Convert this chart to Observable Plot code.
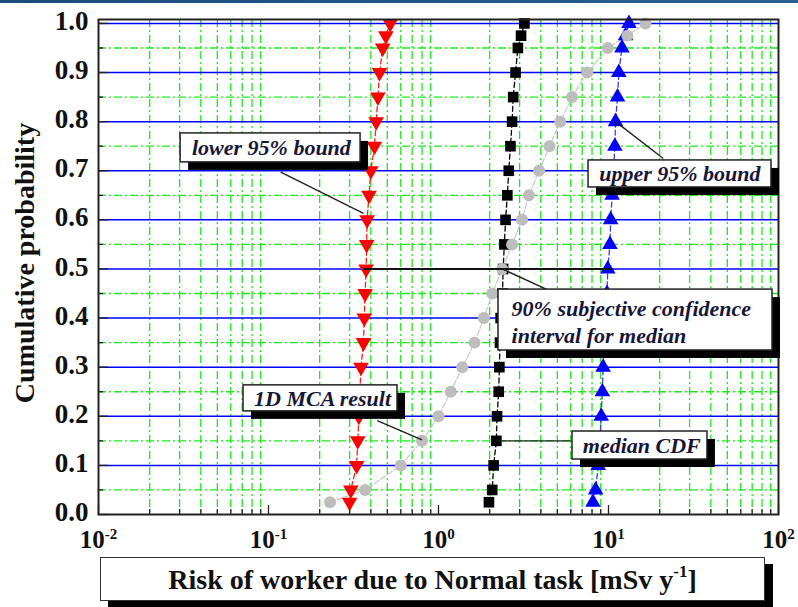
<!DOCTYPE html>
<html>
<head>
<meta charset="utf-8">
<script src="https://cdn.jsdelivr.net/npm/d3@7"></script>
<script src="https://cdn.jsdelivr.net/npm/@observablehq/plot@0.6"></script>
<style>
html, body { margin: 0; padding: 0; background: #fff; }
#wrap { position: relative; width: 798px; height: 607px; overflow: hidden; }
#wrap svg { position: absolute; left: 0; top: 0; }
#topbar { position: absolute; left: 0; top: 0; width: 798px; height: 3px; background: linear-gradient(90deg, #1b4a7e, #2b5f96); }
#xlabel { position: absolute; left: 100px; top: 557px; width: 663px; height: 42px; border: 1.5px solid #333; background: #fff;
  box-shadow: 8px 7px 0 #000; font: bold 28px "Liberation Serif", "Times New Roman", serif; color: #111; text-align: center; line-height: 44px; }
#xlabel sup { font-size: 17px; position: relative; top: -2px; line-height: 0; }
</style>
</head>
<body>
<div id="wrap"></div>
<script>
// ---- data ----
const probs   = [0.025, 0.05, 0.10, 0.15, 0.20, 0.25, 0.30, 0.35, 0.40, 0.45, 0.50, 0.55, 0.60, 0.65, 0.70, 0.75, 0.80, 0.85, 0.90, 0.95, 0.975, 1.0];
const lower95 = [0.30, 0.305, 0.33, 0.335, 0.34, 0.345, 0.35, 0.362, 0.366, 0.37, 0.375, 0.378, 0.38, 0.39, 0.40, 0.42, 0.43, 0.44, 0.45, 0.47, 0.49, 0.52];
const median  = [1.98, 2.07, 2.11, 2.19, 2.21, 2.26, 2.28, 2.30, 2.32, 2.38, 2.40, 2.44, 2.48, 2.54, 2.59, 2.65, 2.71, 2.75, 2.84, 2.93, 3.06, 3.2];
const upper95 = [8.1, 8.4, 8.7, 8.9, 9.06, 9.2, 9.3, 9.4, 9.6, 9.8, 9.9, 10.2, 10.3, 10.5, 10.7, 10.9, 11.0, 11.3, 11.5, 12.0, 12.6, 13.2];
const mca1D   = [0.23, 0.37, 0.60, 0.80, 1.0, 1.18, 1.38, 1.63, 1.85, 2.07, 2.37, 2.71, 3.1, 3.4, 3.9, 4.5, 5.2, 6.1, 7.5, 9.9, 12.9, 16.5];

const xMajorTicks = [0.01, 0.1, 1, 10, 100];
const xTickExponents = ["-2", "-1", "0", "1", "2"];
const xMinorMultipliers = [2, 3, 4, 5, 6, 7, 8, 9];
const yMajorTicks = [0.0, 0.1, 0.2, 0.3, 0.4, 0.5, 0.6, 0.7, 0.8, 0.9, 1.0];
const yMinorTicks = [0.05, 0.15, 0.25, 0.35, 0.45, 0.55, 0.65, 0.75, 0.85, 0.95];

const yTitle = "Cumulative probability";
const xTitle = "Risk of worker due to Normal task [mSv y";

// annotation boxes (data coordinates)
const boxes = [
  {label: "lower 95% bound", x1: 0.0304, x2: 0.348, y1: 0.717, y2: 0.776, tx: 0.104, ty: 0.746, align: "middle"},
  {label: "upper 95% bound", x1: 7.63, x2: 90.9, y1: 0.666, y2: 0.721, tx: 26.3, ty: 0.6935, align: "middle"},
  {label: "90% subjective confidence\ninterval for median", x1: 2.254, x2: 92.2, y1: 0.334, y2: 0.458, tx: 2.69, ty: 0.394, align: "start"},
  {label: "1D MCA result", x1: 0.0713, x2: 0.574, y1: 0.210, y2: 0.263, tx: 0.208, ty: 0.2363, align: "middle"},
  {label: "median CDF", x1: 6.14, x2: 38.2, y1: 0.112, y2: 0.169, tx: 15.7, ty: 0.1405, align: "middle"}
];
const arrows = [
  {x1: 0.362, y1: 0.613, x2: 0.118, y2: 0.697},
  {x1: 11.0, y1: 0.80, x2: 21.0, y2: 0.725},
  {x1: 2.37, y1: 0.50, x2: 4.56, y2: 0.455},
  {x1: 0.436, y1: 0.191, x2: 0.80, y2: 0.152},
  {x1: 2.19, y1: 0.15, x2: 6.0, y2: 0.15}
];
const doubleArrows = [
  {x1: 0.36, y1: 0.50, x2: 10.5, y2: 0.50}
];

// ---- build tables ----
const rows = probs.map((p, i) => ({p, lower: lower95[i], median: median[i], upper: upper95[i], mca: mca1D[i]}));
const xMinorTicks = [];
for (const d of xMajorTicks.slice(0, -1)) for (const m of xMinorMultipliers) xMinorTicks.push(d * m);

const serif = '"Liberation Serif", "Times New Roman", serif';
const green = "#1aea1a";
const dashDot = "8,3,2,3";
const noText = () => "";

const chart = Plot.plot({
  width: 798, height: 607,
  marginLeft: 98, marginRight: 20, marginTop: 19, marginBottom: 93,
  style: {fontFamily: serif, background: "transparent", overflow: "visible"},
  x: {type: "log", domain: [0.01, 100]},
  y: {domain: [0, 1.008]},
  marks: [
    // grid
    Plot.ruleX(xMinorTicks, {stroke: green, strokeWidth: 1.3, strokeDasharray: dashDot}),
    Plot.ruleY(yMinorTicks, {stroke: green, strokeWidth: 1.3, strokeDasharray: dashDot}),
    Plot.ruleY(yMajorTicks.filter(d => d > 0), {stroke: "#0000ff", strokeWidth: 1.5}),
    // series lines
    Plot.line(rows, {x: "lower", y: "p", stroke: "#ff2020", strokeWidth: 1.3, strokeDasharray: "5,3"}),
    Plot.line(rows, {x: "upper", y: "p", stroke: "#3a3aff", strokeWidth: 1.3, strokeDasharray: "5,3"}),
    Plot.line(rows, {x: "median", y: "p", stroke: "#000", strokeWidth: 1.3, strokeDasharray: "5,3"}),
    Plot.line(rows, {x: "mca", y: "p", stroke: "#c8c8c8", strokeWidth: 1.2, strokeDasharray: "6,2"}),
    // series markers
    Plot.dot(rows, {x: "lower", y: "p", symbol: "triangle", rotate: 180, r: 5.8, fill: "#ff0000"}),
    Plot.dot(rows, {x: "upper", y: "p", symbol: "triangle", r: 5.8, fill: "#0000ff"}),
    Plot.dot(rows, {x: "median", y: "p", symbol: "square", r: 6, fill: "#000"}),
    Plot.dot(rows, {x: "mca", y: "p", symbol: "circle", r: 6, fill: "#bdbdbd"}),
    // axes
    Plot.axisY({ticks: yMajorTicks, tickFormat: d3.format(".1f"), tickSize: 0, tickPadding: 10, dy: -2,
                fontSize: 27, fontWeight: "bold", fill: "#111", label: null}),
    Plot.axisY({ticks: yMajorTicks, tickSize: -10, tickFormat: noText, stroke: "#222", strokeWidth: 1.3, label: null}),
    Plot.axisY({ticks: yMinorTicks, tickSize: -5, tickFormat: noText, stroke: "#222", strokeWidth: 1.3, label: null}),
    Plot.axisX({ticks: xMajorTicks, tickSize: 0, tickPadding: 16, tickFormat: () => "10",
                fontSize: 25, fontWeight: "bold", fill: "#111", label: null}),
    Plot.axisX({ticks: xMajorTicks, tickSize: -9, tickFormat: noText, stroke: "#222", strokeWidth: 1.3, label: null}),
    Plot.axisX({ticks: xMinorTicks, tickSize: -5, tickFormat: noText, stroke: "#222", strokeWidth: 1.3, label: null}),
    Plot.frame({stroke: "#222", strokeWidth: 2}),
    Plot.text([yTitle], {text: d => d, frameAnchor: "left", dx: -73, dy: -4, rotate: -90, textAnchor: "middle", lineAnchor: "middle",
              fontSize: 28, fontWeight: "bold", fill: "#111"}),
    // annotation arrows
    Plot.link(arrows, {x1: "x1", y1: "y1", x2: "x2", y2: "y2", stroke: "#222", strokeWidth: 1.4, ariaLabel: "annot-arrow"}),
    Plot.link(doubleArrows, {x1: "x1", y1: "y1", x2: "x2", y2: "y2", stroke: "#111", strokeWidth: 2, ariaLabel: "annot-arrow2"}),
    // annotation boxes
    Plot.rect(boxes, {x1: "x1", x2: "x2", y1: "y1", y2: "y2", fill: "#000", dx: 8, dy: 8}),
    Plot.rect(boxes, {x1: "x1", x2: "x2", y1: "y1", y2: "y2", fill: "#fff", stroke: "#222", strokeWidth: 1.5}),
    Plot.text(boxes.filter(b => b.align === "middle"), {x: "tx", y: "ty", text: "label", textAnchor: "middle", lineAnchor: "middle",
              fontSize: 22, fontStyle: "italic", fontWeight: "bold", fill: "#161638"}),
    Plot.text(boxes.filter(b => b.align === "start"), {x: "tx", y: "ty", text: "label", textAnchor: "start", lineAnchor: "middle",
              lineHeight: 1.22, fontSize: 22, fontStyle: "italic", fontWeight: "bold", fill: "#161638"})
  ]
});

const wrap = document.getElementById("wrap");
wrap.appendChild(chart);

// superscript exponents on x tick labels
const sel = d3.select(chart);
sel.selectAll('g[aria-label="x-axis tick label"] text')
  .filter(function() { return this.textContent === "10"; })
  .each(function(_, j) {
    d3.select(this).append("tspan").attr("dy", -9).attr("font-size", 15).text(xTickExponents[j]);
  });

// filled arrow heads
const defs = sel.append("defs");
defs.append("marker").attr("id", "ahead").attr("viewBox", "0 0 10 10").attr("refX", 10).attr("refY", 5)
  .attr("markerWidth", 10).attr("markerHeight", 7).attr("markerUnits", "userSpaceOnUse").attr("orient", "auto-start-reverse")
  .append("path").attr("d", "M0,0L10,5L0,10Z").attr("fill", "#222");
sel.selectAll('g[aria-label="annot-arrow"] path').attr("marker-end", "url(#ahead)");
sel.selectAll('g[aria-label="annot-arrow2"] path').attr("marker-end", "url(#ahead)").attr("marker-start", "url(#ahead)");

// top band and x-axis title box
const bar = document.createElement("div"); bar.id = "topbar"; wrap.appendChild(bar);
const xl = document.createElement("div"); xl.id = "xlabel";
xl.appendChild(document.createTextNode(xTitle));
const sup = document.createElement("sup"); sup.textContent = "-1"; xl.appendChild(sup);
xl.appendChild(document.createTextNode("]"));
wrap.appendChild(xl);
</script>
</body>
</html>
